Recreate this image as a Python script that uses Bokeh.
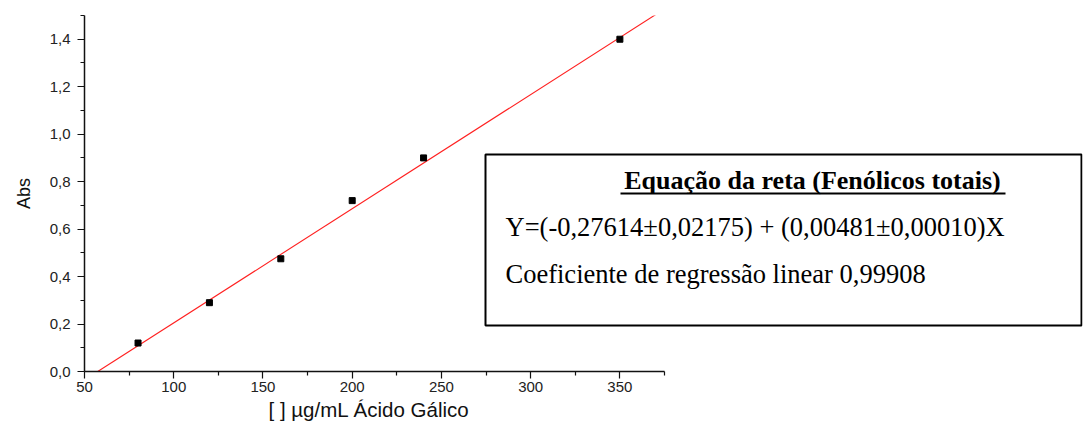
from bokeh.plotting import figure
from bokeh.models import FixedTicker, CustomJSTickFormatter, BoxAnnotation, Label, Title
from bokeh.embed import file_html
from bokeh.resources import INLINE

# Data
conc = [80, 120, 160, 200, 240, 350]
absorb = [0.12, 0.29, 0.475, 0.72, 0.90, 1.40]
intercept = -0.27614
slope = 0.00481
x_major = [50, 100, 150, 200, 250, 300, 350]
x_minor = [75, 125, 175, 225, 275, 325, 375]
y_major = [0.0, 0.2, 0.4, 0.6, 0.8, 1.0, 1.2, 1.4]
y_minor = [0.1, 0.3, 0.5, 0.7, 0.9, 1.1, 1.3, 1.5]
x_title = "[ ]  µg/mL  Ácido Gálico"
y_title = "Abs"
box_title = "Equação da reta (Fenólicos totais)"
box_eq = "Y=(-0,27614±0,02175) + (0,00481±0,00010)X"
box_r = "Coeficiente de regressão linear 0,99908"

X_MIN, X_MAX = 50, 375
AXIS_PX = 580          # pixel length of the drawn x axis
FRAME_W = 998          # frame extends to the right so the equation box is not clipped
x_end = X_MIN + (X_MAX - X_MIN) * FRAME_W / AXIS_PX

p = figure(frame_width=FRAME_W, frame_height=356, x_range=(X_MIN, x_end), y_range=(0, 1.5),
           output_backend="svg", toolbar_location=None,
           min_border_left=84, min_border_right=1, min_border_top=15, min_border_bottom=55)
p.outline_line_color = None
p.xgrid.visible = False
p.ygrid.visible = False
p.background_fill_color = "white"
p.border_fill_color = "white"

# regression line
x0 = -intercept / slope
x1 = X_MAX
p.line([x0, x1], [intercept + slope * x0, intercept + slope * x1], line_color="#ff2020", line_width=1.1)
p.scatter(conc, absorb, marker="square", size=6, fill_color="black", line_color="black")

p.xaxis.ticker = FixedTicker(ticks=x_major, minor_ticks=x_minor)
p.xaxis.bounds = (X_MIN, X_MAX)
p.yaxis.ticker = FixedTicker(ticks=y_major, minor_ticks=y_minor)
p.yaxis.formatter = CustomJSTickFormatter(code="return tick.toFixed(1).replace('.', ',');")
for ax in (p.xaxis[0], p.yaxis[0]):
    ax.axis_line_color = "#111111"
    ax.axis_line_width = 1.5
    ax.major_tick_line_color = "#111111"
    ax.minor_tick_line_color = "#111111"
    ax.major_tick_line_width = 1.2
    ax.minor_tick_line_width = 1.2
    ax.major_tick_out = 7
    ax.major_tick_in = 0
    ax.minor_tick_out = 4
    ax.minor_tick_in = 0
    ax.major_label_text_font = "Liberation Sans"
    ax.major_label_text_font_size = "15px"
    ax.major_label_text_color = "#222222"
    ax.axis_label_text_font = "Liberation Sans"
    ax.axis_label_text_font_style = "normal"
    ax.axis_label_text_color = "#111111"

p.xaxis.major_label_standoff = 3
p.yaxis.axis_label = y_title
p.yaxis.axis_label_text_font_size = "18px"
p.yaxis.major_label_standoff = 7
p.yaxis.axis_label_standoff = 13

# x axis title, positioned under the drawn axis (not the extended frame)
p.add_layout(Title(text=x_title, align="left", offset=184, standoff=2,
                   text_font="Liberation Sans", text_font_size="20.5px", text_font_style="normal",
                   text_color="#111111"), "below")

# Equation box
box = BoxAnnotation(left=485, right=1081, top=154, bottom=325,
                    left_units="canvas", right_units="canvas", top_units="canvas", bottom_units="canvas",
                    fill_color="white", fill_alpha=1.0, line_color="black", line_alpha=1.0, line_width=2)
p.add_layout(box)
underline = BoxAnnotation(left=620, right=1005, top=192, bottom=194,
                          left_units="canvas", right_units="canvas", top_units="canvas", bottom_units="canvas",
                          fill_color="black", fill_alpha=1.0, line_color=None)
p.add_layout(underline)
p.add_layout(Label(x=812, y=180, x_units="canvas", y_units="canvas", text=box_title,
                   text_font="Liberation Serif", text_font_style="bold", text_font_size="26px",
                   text_align="center", text_baseline="middle", text_color="black"))
p.add_layout(Label(x=505, y=226, x_units="canvas", y_units="canvas", text=box_eq,
                   text_font="Liberation Serif", text_font_size="26.5px",
                   text_align="left", text_baseline="middle", text_color="black"))
p.add_layout(Label(x=505, y=273, x_units="canvas", y_units="canvas", text=box_r,
                   text_font="Liberation Serif", text_font_size="26.5px",
                   text_align="left", text_baseline="middle", text_color="black"))

open("out.html", "w").write(file_html(p, INLINE))
